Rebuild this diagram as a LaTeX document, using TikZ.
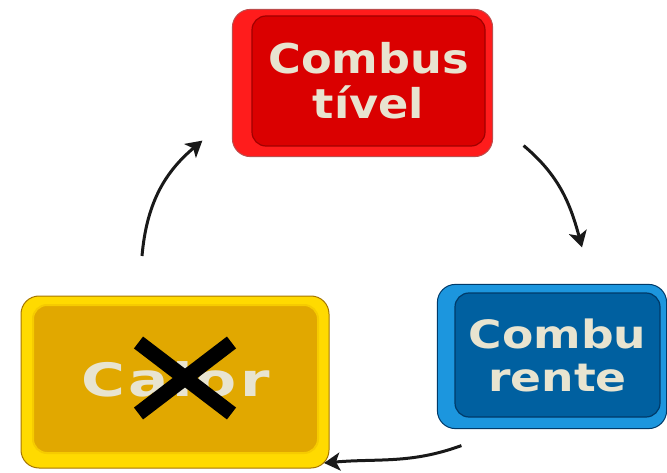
\documentclass[tikz,border=0pt]{standalone}
\usepackage{fontspec}
\setmainfont{DejaVu Sans}
\usepackage{xcolor}
\usetikzlibrary{positioning,calc}
\usetikzlibrary{arrows.meta,shapes,backgrounds}
\definecolor{creme}{RGB}{232,228,208}
\definecolor{redface}{RGB}{218,0,0}
\definecolor{redrim}{RGB}{255,28,28}
\definecolor{rededge}{RGB}{160,0,0}
\definecolor{blueface}{RGB}{0,96,160}
\definecolor{bluerim}{RGB}{28,150,222}
\definecolor{blueedge}{RGB}{0,58,105}
\definecolor{yelface}{RGB}{225,168,0}
\definecolor{yelrim}{RGB}{255,218,0}
\definecolor{yeledge}{RGB}{165,118,0}
\tikzstyle{block} = [rectangle,rounded corners=14pt,align=center,text=creme,line width=1.2pt,inner sep=0pt]
\tikzstyle{rim} = [rounded corners=18pt,line width=1pt]
\tikzstyle{line} = [-{Stealth[length=16pt,width=18pt,inset=4pt]},line width=3pt,black!90]
\tikzstyle{cross} = [cross out,draw=black,line width=15pt,inner sep=0pt,minimum width=78pt,minimum height=56pt]

\begin{document}
\begin{tikzpicture}[x=1pt,y=1pt]
    \useasboundingbox (0,0) rectangle (667,472);
    % the three blocks
    \node[block,fill=redface,draw=rededge,minimum width=233pt,minimum height=130pt,
        font=\bfseries\fontsize{41}{45}\selectfont\addfontfeature{FakeStretch=1.09}]
        (comb) at (368.5,391) {Combus\\tível};
    \node[block,fill=blueface,draw=blueedge,minimum width=205pt,minimum height=124pt,
        font=\bfseries\fontsize{39}{43}\selectfont\addfontfeature{FakeStretch=1.17}]
        (comburente) at (557.5,117) {Combu\\rente};
    \node[block,fill=yelface,draw=yelrim!70!yelface,line width=2pt,minimum width=285pt,minimum height=148pt,
        font=\bfseries\fontsize{46}{50}\selectfont\addfontfeature{FakeStretch=1.3,LetterSpace=7}]
        (calor) at (175.5,93) {Calor};
    \node[cross] (xmark) at ([shift={(9.5,1)}]calor.center) {};
    % the raised sides
    \begin{scope}[on background layer]
        \draw[rim,fill=redrim,draw=rededge!70] ([shift={(-19,-10)}]comb.south west) rectangle ([shift={(7,6)}]comb.north east);
        \draw[rim,fill=bluerim,draw=blueedge] ([shift={(-17,-11)}]comburente.south west) rectangle ([shift={(6,8)}]comburente.north east);
        \draw[rim,fill=yelrim,draw=yeledge] ([shift={(-11,-14)}]calor.south west) rectangle ([shift={(10,8)}]calor.north east);
    \end{scope}
    % the cycle
    \draw[line] ([shift={(38,1)}]comb.south east) to[out=-40,in=105] ([shift={(24.5,45)}]comburente.north);
    \draw[line] ([shift={(7,-28)}]comburente.south west) to[out=-160,in=5] ([shift={(5,-9)}]calor.south east);
    \draw[line] ([shift={(-33.5,48)}]calor.north) to[out=85,in=220] ([shift={(-49,6)}]comb.south west);
\end{tikzpicture}
\end{document}
